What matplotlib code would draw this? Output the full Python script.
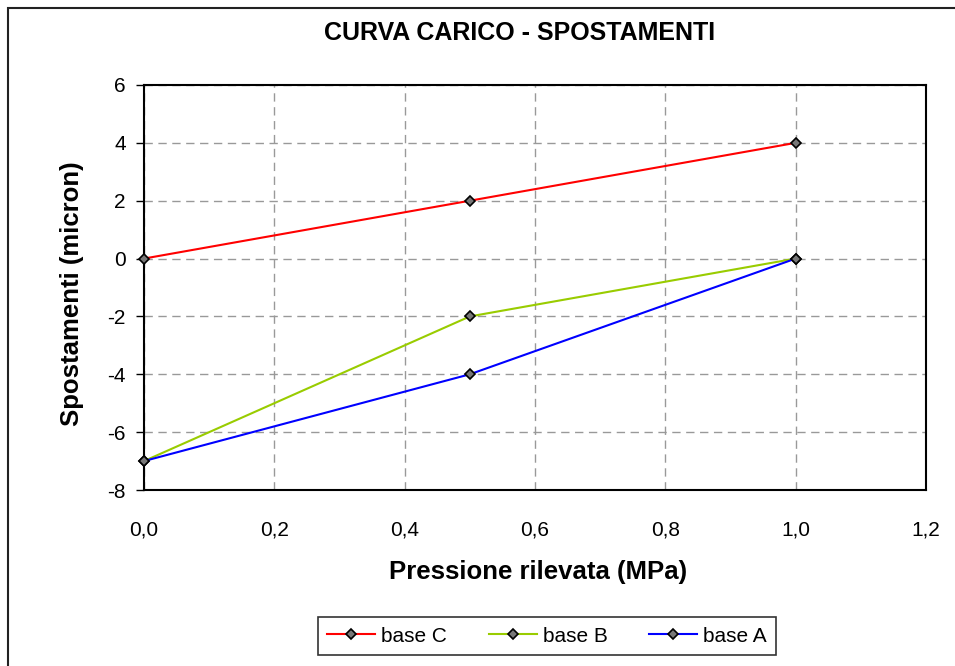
import matplotlib
matplotlib.use("Agg")
import matplotlib.pyplot as plt
from matplotlib.patches import Rectangle
from matplotlib.ticker import FuncFormatter

x = [0.0, 0.5, 1.0]
base_c = [0, 2, 4]
base_b = [-7, -2, 0]
base_a = [-7, -4, 0]
series_names = ["base C", "base B", "base A"]
series_colors = ["#FF0000", "#99CC00", "#0000FF"]
x_ticks = [0.0, 0.2, 0.4, 0.6, 0.8, 1.0, 1.2]
y_ticks = [-8, -6, -4, -2, 0, 2, 4, 6]

plt.rcParams['font.family'] = ['Liberation Sans', 'DejaVu Sans']
plt.rcParams['axes.unicode_minus'] = False

fig = plt.figure(figsize=(9.55, 6.66), dpi=100)
ax = fig.add_axes([144/955, 1-490/666, (926-144)/955, (490-85)/666])

for vals, name, col in zip([base_c, base_b, base_a], series_names, series_colors):
    ax.plot(x, vals, color=col, lw=1.5, marker='D', markersize=5,
            markerfacecolor='#777777', markeredgecolor='black', markeredgewidth=1.2,
            label=name, zorder=3, clip_on=False)

ax.set_xlim(0, 1.2)
ax.set_ylim(-8, 6)
ax.set_xticks(x_ticks)
ax.set_yticks(y_ticks)
ax.xaxis.set_major_formatter(FuncFormatter(lambda v, p: f"{v:.1f}".replace('.', ',')))
ax.yaxis.set_major_formatter(FuncFormatter(lambda v, p: f"{int(round(v))}"))
ax.grid(True, color='#999999', linestyle=(0, (6, 4)), lw=1)
for s in ax.spines.values():
    s.set_color('black')
    s.set_linewidth(1.5)
ax.tick_params(axis='x', length=0, pad=22, labelsize=15)
ax.tick_params(axis='y', length=6, width=1, pad=7, labelsize=15, direction='out')

fig.text(520/955, 1-33/666, "CURVA CARICO - SPOSTAMENTI", fontsize=18, fontweight='bold',
         ha='center', va='center')

fig.text(538/955, 1-572/666, "Pressione rilevata (MPa)", fontsize=18.5, fontweight='bold',
         ha='center', va='center')
fig.text(72/955, 1-294/666, "Spostamenti (micron)", fontsize=18.5, fontweight='bold',
         ha='center', va='center', rotation=90)

leg = fig.legend(loc='center', bbox_to_anchor=(547/955, 1-636/666), ncol=3,
                 fancybox=False, edgecolor='black', fontsize=15, handlelength=2.3,
                 handletextpad=0.3, columnspacing=2.0, borderpad=0.45)
leg.get_frame().set_linewidth(1.2)

fig.patches.append(Rectangle((8/955, -0.2), 1.2, 1 - 8/666 + 0.2, transform=fig.transFigure,
                             fill=False, edgecolor='#222222', lw=1.5, clip_on=False))

fig.savefig("out.png", dpi=100)
